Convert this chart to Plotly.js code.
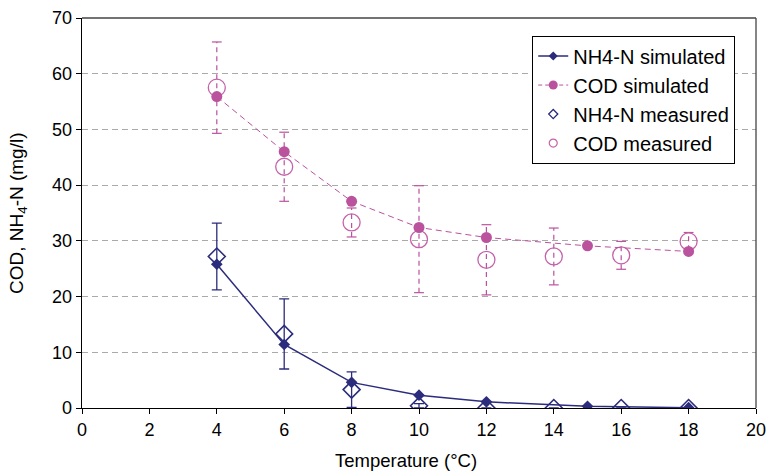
<!DOCTYPE html>
<html><head><meta charset="utf-8">
<script src="https://cdn.plot.ly/plotly-3.0.1.min.js"></script>
<style>html,body{margin:0;padding:0;background:#fff}#chart{width:769px;height:473px}</style>
</head><body><div id="chart"></div>
<script>
// Simulated series
var simTemp = [4, 6, 8, 10, 12, 15, 18];
var nh4Sim = [25.8, 11.4, 4.6, 2.3, 1.1, 0.3, 0.05];
var codSim = [55.9, 46.0, 37.1, 32.4, 30.6, 29.1, 28.1];
// Measured series
var measTemp = [4, 6, 8, 10, 12, 14, 16, 18];
var nh4Meas = [27.2, 13.3, 3.3, 0.4, 0, 0, 0, 0];
var nh4Err  = [6.0, 6.3, 3.2, 0.4, 0, 0, 0, 0];
var codMeas = [57.5, 43.3, 33.3, 30.3, 26.6, 27.2, 27.4, 29.9];
var codErr  = [8.2, 6.2, 2.6, 9.6, 6.3, 5.1, 2.5, 1.6];
var xTitle = 'Temperature (°C)';
var yTitle = 'COD, NH<sub>4</sub>-N (mg/l)';

var navy = '#2B2C7C';
var pink = '#BA529E';
var pinkLight = '#C462A9';

// dashed COD error bars built from data
var ebX = [], ebY = [], capX = [], capY = [];
for (var i = 0; i < measTemp.length; i++) {
  ebX.push(measTemp[i], measTemp[i], null);
  ebY.push(codMeas[i] - codErr[i], codMeas[i] + codErr[i], null);
  capX.push(measTemp[i], measTemp[i]);
  capY.push(codMeas[i] - codErr[i], codMeas[i] + codErr[i]);
}

var traces = [
  {x: ebX, y: ebY, mode: 'lines', line: {color: pink, width: 1.2, dash: '5px,4px'}, showlegend: false, hoverinfo: 'skip'},
  {x: capX, y: capY, mode: 'markers', marker: {symbol: 'line-ew-open', size: 7, color: pink, line: {color: pink, width: 1.2}}, showlegend: false, hoverinfo: 'skip'},
  {x: measTemp, y: codMeas, mode: 'markers', marker: {symbol: 'circle-open', size: 17, color: pinkLight, line: {width: 1.3}}, showlegend: false},
  {x: measTemp, y: nh4Meas, mode: 'markers', marker: {symbol: 'diamond-open', size: 13, color: navy, line: {width: 1.6}},
   error_y: {type: 'data', array: nh4Err, visible: true, color: navy, thickness: 1.3, width: 5}, showlegend: false},
  {x: simTemp, y: codSim, mode: 'lines+markers', line: {color: pink, width: 1, dash: '6px,4px'},
   marker: {symbol: 'circle', size: 11, color: pink}, showlegend: false},
  {x: simTemp, y: nh4Sim, mode: 'lines+markers', line: {color: navy, width: 1.5},
   marker: {symbol: 'diamond', size: 9, color: navy}, showlegend: false},
  // legend entries
  {x: [null], y: [null], name: 'NH4-N simulated', mode: 'lines+markers', line: {color: navy, width: 1.5}, marker: {symbol: 'diamond', size: 7, color: navy}, legendgroup: 'a'},
  {x: [null], y: [null], name: 'COD simulated', mode: 'lines+markers', line: {color: pink, width: 1, dash: '4px,3px'}, marker: {symbol: 'circle', size: 9, color: pink}, legendgroup: 'b'},
  {x: [null], y: [null], name: 'NH4-N measured', mode: 'markers', marker: {symbol: 'diamond-open', size: 7, color: navy, line: {width: 1.3}}, legendgroup: 'c'},
  {x: [null], y: [null], name: 'COD measured', mode: 'markers', marker: {symbol: 'circle-open', size: 8, color: pinkLight, line: {width: 1.2}}, legendgroup: 'd'}
];

var layout = {
  width: 769, height: 473,
  margin: {l: 82, r: 13, t: 18, b: 65},
  paper_bgcolor: '#fff', plot_bgcolor: '#fff',
  font: {family: 'Liberation Sans, Arial, sans-serif', size: 18, color: '#000'},
  showlegend: true,
  legend: {x: 0.668, y: 0.955, xanchor: 'left', yanchor: 'top', bgcolor: '#fff', bordercolor: '#000', borderwidth: 1,
           font: {size: 20}, traceorder: 'grouped', tracegroupgap: 0},
  xaxis: {range: [0, 20], dtick: 2, tick0: 0, showgrid: false, zeroline: false, showline: true, linecolor: '#000', linewidth: 1.3,
          ticks: 'outside', ticklen: 5, tickcolor: '#000', tickfont: {size: 18}},
  yaxis: {range: [0, 70], dtick: 10, tick0: 0, showgrid: true, gridcolor: '#AAAAAA', griddash: '6px,4px', gridwidth: 1.2,
          zeroline: false, showline: true, linecolor: '#000', linewidth: 1.3, ticks: 'outside', ticklen: 5, tickcolor: '#000',
          tickfont: {size: 18}},
  annotations: [
    {text: xTitle, xref: 'paper', yref: 'paper', x: 0.48, y: 0, yshift: -52, xanchor: 'center', yanchor: 'middle', showarrow: false, font: {size: 18.5}},
    {text: yTitle, xref: 'paper', yref: 'paper', x: 0, xshift: -64, y: 0.5, xanchor: 'center', yanchor: 'middle', textangle: -90, showarrow: false, font: {size: 19}}
  ],
  shapes: [
    {type: 'line', xref: 'paper', yref: 'paper', x0: 0, x1: 1, y0: 1, y1: 1, line: {color: '#444', width: 1.3}},
    {type: 'line', xref: 'paper', yref: 'paper', x0: 1, x1: 1, y0: 0, y1: 1, line: {color: '#444', width: 1.3}}
  ]
};

Plotly.newPlot('chart', traces, layout, {displayModeBar: false, staticPlot: true});
</script></body></html>
